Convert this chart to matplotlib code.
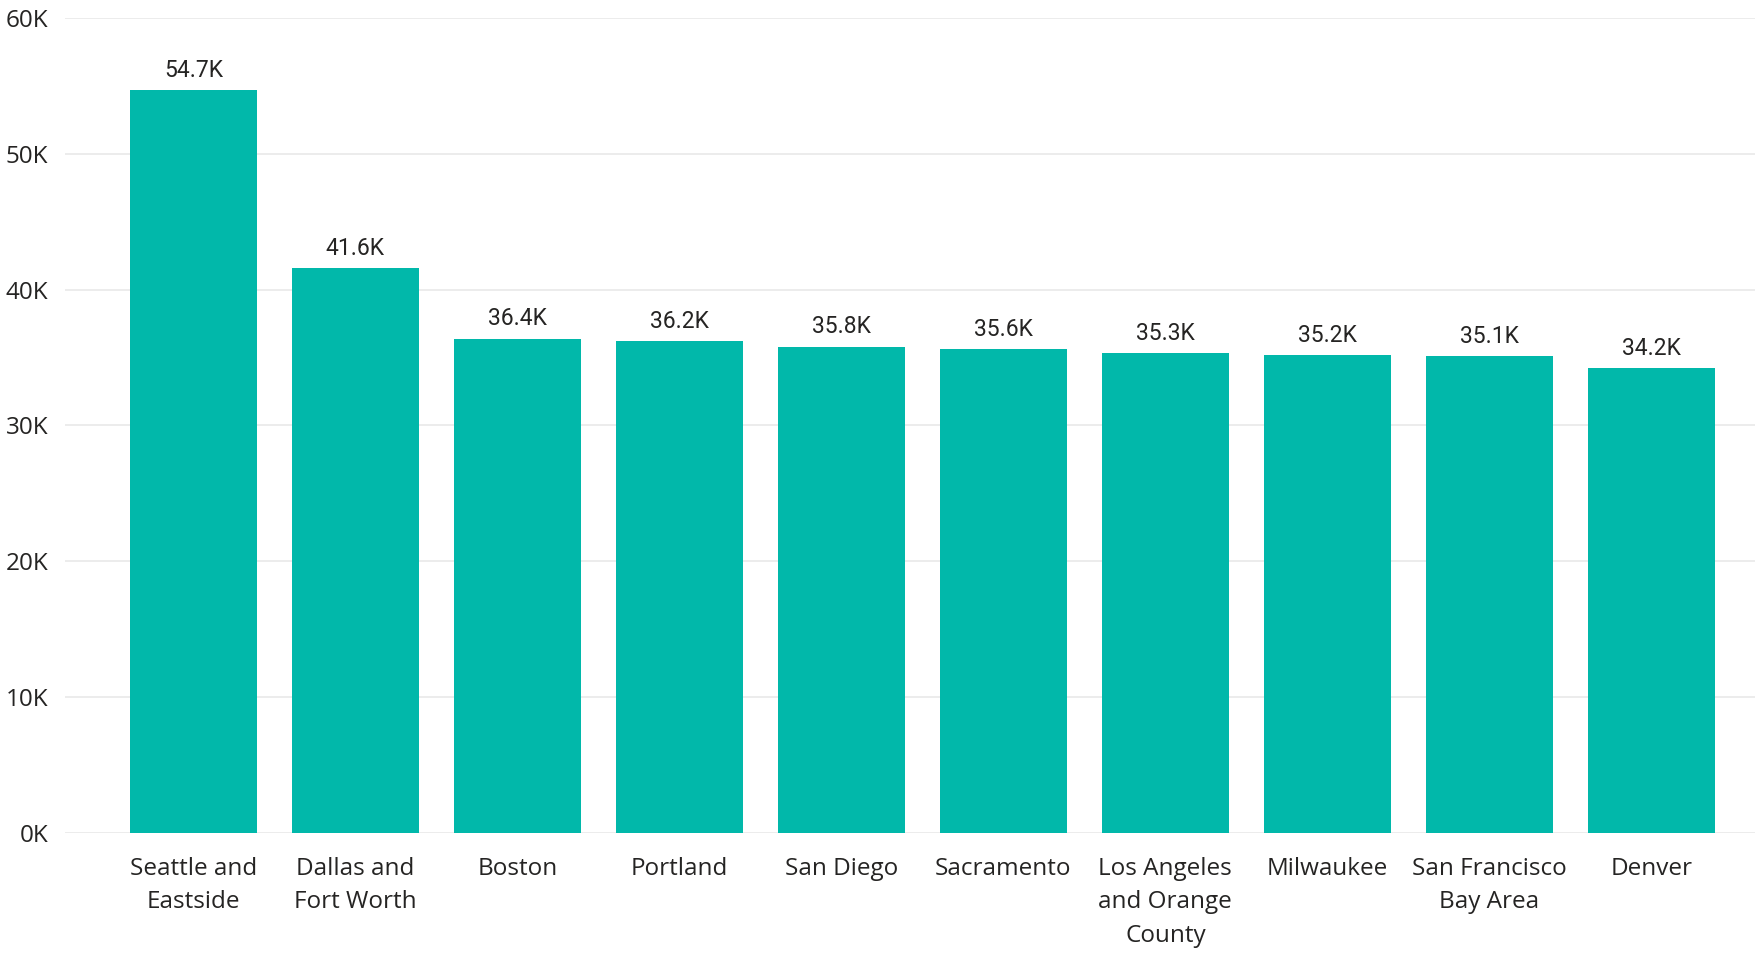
import matplotlib.pyplot as plt
from matplotlib.ticker import FuncFormatter

# data (values in thousands)
cities = ["Seattle and\nEastside", "Dallas and\nFort Worth", "Boston", "Portland",
          "San Diego", "Sacramento", "Los Angeles\nand Orange\nCounty", "Milwaukee",
          "San Francisco\nBay Area", "Denver"]
values = [54.7, 41.6, 36.4, 36.2, 35.8, 35.6, 35.3, 35.2, 35.1, 34.2]
yticks = [0, 10, 20, 30, 40, 50, 60]

fig = plt.figure(figsize=(17.55, 9.57), dpi=100)
ax = fig.add_axes([0.037, 0.1296, 0.963, 0.8516])

x = list(range(len(cities)))
bars = ax.bar(x, values, width=0.785, color="#01B8AA", zorder=2)

for b, v in zip(bars, values):
    ax.annotate(f"{v:.1f}K", (b.get_x() + b.get_width() / 2, v),
                xytext=(0, 6), textcoords="offset points",
                ha="center", va="bottom", fontsize=16.5, color="#252423",
                family=["Roboto", "DejaVu Sans"])

ax.set_ylim(0, 60)
ax.set_yticks(yticks)
ax.yaxis.set_major_formatter(FuncFormatter(lambda v, p: f"{v:.0f}K"))
ax.set_xlim(-0.793, 9.64)
ax.set_xticks(x)
ax.set_xticklabels(cities, linespacing=1.55)

ax.grid(axis="y", color="#E9E9E9", linewidth=1.2, zorder=0)
for s in ax.spines.values():
    s.set_visible(False)
ax.tick_params(axis="both", length=0, labelsize=17.5, colors="#252423")
ax.tick_params(axis="y", pad=12)
ax.tick_params(axis="x", pad=17)
for lbl in ax.get_xticklabels() + ax.get_yticklabels():
    lbl.set_family(["Open Sans", "DejaVu Sans"])

fig.savefig("out.png", dpi=100)
